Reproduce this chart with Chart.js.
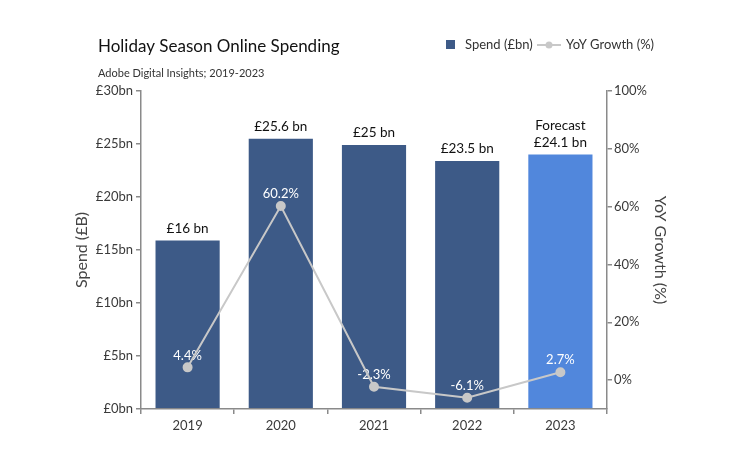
<!DOCTYPE html>
<html>
<head>
<meta charset="utf-8">
<script src="https://cdn.jsdelivr.net/npm/chart.js@4"></script>
<style>
  html, body { margin: 0; padding: 0; background: #fff; }
  #wrap { width: 750px; height: 458px; position: relative; }
</style>
</head>
<body>
<div id="wrap"><canvas id="chart"></canvas></div>
<script>
// chart data
var years = ['2019', '2020', '2021', '2022', '2023'];
var spend = [16, 25.6, 25, 23.5, 24.1];
var growth = [4.4, 60.2, -2.3, -6.1, 2.7];
var spendLabels = ['£16 bn', '£25.6 bn', '£25 bn', '£23.5 bn', '£24.1 bn'];
var growthLabels = ['4.4%', '60.2%', '-2.3%', '-6.1%', '2.7%'];
var forecastYear = '2023';

var FONT = 'Lato, "Open Sans", sans-serif';
var darkBlue = '#3d5a87';
var lightBlue = '#5187dc';
var lineGrey = '#c8c8c8';
var axisGrey = '#8a8a8a';

var barColors = years.map(function (y) { return y === forecastYear ? lightBlue : darkBlue; });

// title, subtitle and legend drawn by hand so they sit on one row
var headerPlugin = {
  id: 'header',
  afterDraw: function (chart) {
    var c = chart.ctx;
    c.save();
    c.textBaseline = 'middle';
    c.textAlign = 'left';
    c.fillStyle = '#111';
    c.font = '17px ' + FONT;
    c.fillText('Holiday Season Online Spending', 98, 47);
    c.fillStyle = '#333';
    c.font = '11px ' + FONT;
    c.fillText('Adobe Digital Insights; 2019-2023', 98, 73);

    // legend
    c.font = '13px ' + FONT;
    c.fillStyle = darkBlue;
    c.fillRect(446, 40, 9, 9);
    c.fillStyle = '#333';
    c.fillText('Spend (£bn)', 465, 45);
    c.strokeStyle = lineGrey;
    c.lineWidth = 2;
    c.beginPath();
    c.moveTo(537, 45);
    c.lineTo(561, 45);
    c.stroke();
    c.fillStyle = lineGrey;
    c.beginPath();
    c.arc(549, 45, 3.5, 0, Math.PI * 2);
    c.fill();
    c.fillStyle = '#333';
    c.fillText('YoY Growth (%)', 566, 45);
    c.restore();
  }
};

// value labels: bar labels on top, growth labels under the line
var labelPlugin = {
  id: 'labels',
  afterDatasetDraw: function (chart, args) {
    if (args.index !== 0) return;
    var c = chart.ctx;
    var lineMeta = chart.getDatasetMeta(1);
    c.save();
    c.textAlign = 'center';
    c.textBaseline = 'middle';
    c.font = '13px ' + FONT;
    c.fillStyle = '#fff';
    lineMeta.data.forEach(function (pt, i) {
      c.fillText(growthLabels[i], pt.x, pt.y - 12);
    });
    c.restore();
  },
  afterDatasetsDraw: function (chart) {
    var c = chart.ctx;
    var barMeta = chart.getDatasetMeta(0);
    c.save();
    c.textAlign = 'center';
    c.textBaseline = 'middle';
    c.font = '13.5px ' + FONT;
    c.fillStyle = '#111';
    barMeta.data.forEach(function (bar, i) {
      c.fillText(spendLabels[i], bar.x, bar.y - 11);
      if (years[i] === forecastYear) {
        c.fillText('Forecast', bar.x, bar.y - 28);
      }
    });
    c.restore();
  }
};

var ctx = document.getElementById('chart');
var chart = new Chart(ctx, {
  type: 'bar',
  data: {
    labels: years,
    datasets: [{
      label: 'Spend (£bn)',
      data: spend,
      backgroundColor: barColors,
      borderColor: 'rgba(255,255,255,0.3)',
      borderWidth: 1,
      categoryPercentage: 1,
      barPercentage: 0.71,
      yAxisID: 'y',
      order: 2
    }, {
      type: 'line',
      label: 'YoY Growth (%)',
      data: growth,
      borderColor: lineGrey,
      backgroundColor: lineGrey,
      borderWidth: 2,
      pointRadius: 4,
      pointHoverRadius: 4,
      tension: 0,
      yAxisID: 'y1',
      order: 1
    }]
  },
  options: {
    responsive: true,
    maintainAspectRatio: false,
    animation: false,
    layout: { padding: { left: 60, right: 80, top: 91, bottom: 19 } },
    plugins: {
      legend: { display: false },
      title: { display: false },
      tooltip: { enabled: false }
    },
    scales: {
      x: {
        grid: { display: true, drawOnChartArea: false, tickLength: 5, color: axisGrey, lineWidth: 1.5 },
        border: { color: axisGrey, width: 1.5 },
        ticks: { color: '#3a3a3a', font: { family: FONT, size: 13 }, padding: 4 },
        afterFit: function (s) { s.height = 30; }
      },
      y: {
        position: 'left',
        min: 0,
        max: 30,
        ticks: {
          stepSize: 5,
          color: '#3a3a3a',
          font: { family: FONT, size: 13 },
          padding: 3,
          callback: function (v) { return '£' + v + 'bn'; }
        },
        grid: { display: true, drawOnChartArea: false, tickLength: 5, color: axisGrey, lineWidth: 1.5 },
        border: { color: axisGrey, width: 1.5 },
        title: {
          display: true,
          text: 'Spend (£B)',
          color: '#444',
          font: { family: FONT, size: 16 },
          padding: { top: 12, bottom: 0 }
        },
        afterFit: function (s) { s.width = 81; }
      },
      y1: {
        position: 'right',
        min: -10,
        max: 100,
        ticks: {
          stepSize: 20,
          color: '#3a3a3a',
          font: { family: FONT, size: 13 },
          padding: 2,
          callback: function (v) { return v + '%'; }
        },
        afterBuildTicks: function (s) {
          s.ticks = s.ticks.filter(function (t) { return t.value >= 0; });
        },
        grid: { display: true, drawOnChartArea: false, tickLength: 5, color: axisGrey, lineWidth: 1.5 },
        border: { color: axisGrey, width: 1.5 },
        title: {
          display: true,
          text: 'YoY Growth (%)',
          color: '#444',
          font: { family: FONT, size: 16 },
          padding: { top: 0, bottom: 0 }
        },
        afterFit: function (s) { s.width = 63; }
      }
    }
  },
  plugins: [headerPlugin, labelPlugin]
});
</script>
</body>
</html>
